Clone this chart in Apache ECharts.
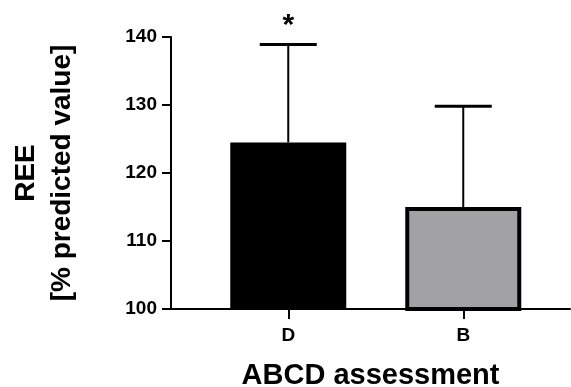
<!DOCTYPE html>
<html>
<head>
<meta charset="utf-8">
<script src="https://cdn.jsdelivr.net/npm/echarts@6/dist/echarts.min.js"></script>
<style>
  html, body { margin: 0; padding: 0; background: #fff; }
  #chart { width: 571px; height: 387px; }
</style>
</head>
<body>
<div id="chart"></div>
<script>
var categories = ['D', 'B'];
var positions = [1, 2];
var means = [124.5, 115.0];
var errTops = [138.9, 129.8];
var marks = ['*', ''];
var barColors = ['#000000', '#a2a1a6'];
var yTicks = [100, 110, 120, 130, 140];

var font = '"Liberation Sans", Arial, sans-serif';

function initChart(dom) {
  var myChart = echarts.init(dom),
    barData = positions.map(function (p, i) {
      return {
        value: [p, means[i]],
        itemStyle: {
          color: barColors[i],
          borderColor: '#000',
          borderWidth: i === 0 ? 0 : 4
        }
      };
    }),
    errData = positions.map(function (p, i) {
      return [p, means[i], errTops[i], marks[i]];
    }),
    option = {
      animation: false,
      grid: {
        left: 171,
        right: 1,
        top: 37,
        bottom: 78,
        outerBoundsMode: 'none',
        containLabel: false
      },
      xAxis: {
        type: 'value',
        min: 0.33,
        max: 2.61,
        name: 'ABCD assessment',
        nameLocation: 'middle',
        nameGap: 52,
        nameTextStyle: {
          color: '#000',
          fontFamily: font,
          fontWeight: 'bold',
          fontSize: 29
        },
        axisLine: {
          lineStyle: { color: '#000', width: 2 }
        },
        axisTick: {
          show: true,
          length: 10,
          customValues: positions,
          lineStyle: { color: '#000', width: 2 }
        },
        axisLabel: {
          customValues: positions,
          margin: 17,
          color: '#000',
          fontFamily: font,
          fontWeight: 'bold',
          fontSize: 19,
          formatter: function (v) {
            return categories[positions.indexOf(v)] || '';
          }
        },
        splitLine: { show: false }
      },
      yAxis: {
        type: 'value',
        min: yTicks[0],
        max: yTicks[yTicks.length - 1],
        interval: 10,
        name: 'REE\n[% predicted value]',
        nameLocation: 'middle',
        nameRotate: 90,
        nameGap: 91,
        nameTextStyle: {
          color: '#000',
          fontFamily: font,
          fontWeight: 'bold',
          fontSize: 28,
          lineHeight: 36
        },
        axisLine: {
          show: true,
          lineStyle: { color: '#000', width: 2 }
        },
        axisTick: {
          show: true,
          length: 9,
          lineStyle: { color: '#000', width: 2 }
        },
        axisLabel: {
          margin: 14,
          color: '#000',
          fontFamily: font,
          fontWeight: 'bold',
          fontSize: 19
        },
        splitLine: { show: false }
      },
      series: [{
        type: 'bar',
        barWidth: 116,
        data: barData,
        z: 2
      }, {
        type: 'custom',
        z: 3,
        clip: false,
        data: errData,
        renderItem: function (params, api) {
          var base = api.coord([api.value(0), api.value(1)]),
            top = api.coord([api.value(0), api.value(2)]),
            half = 28.5,
            children = [{
              type: 'line',
              shape: { x1: base[0], y1: base[1], x2: top[0], y2: top[1] },
              style: { stroke: '#000', lineWidth: 2 }
            }, {
              type: 'line',
              shape: { x1: top[0] - half, y1: top[1], x2: top[0] + half, y2: top[1] },
              style: { stroke: '#000', lineWidth: 3 }
            }];
          var mark = marks[params.dataIndex];
          if (mark) {
            children.push({
              type: 'text',
              style: {
                x: top[0],
                y: top[1] - 19,
                text: mark,
                fill: '#000',
                font: 'bold 30px ' + font,
                align: 'center',
                verticalAlign: 'middle'
              }
            });
          }
          return { type: 'group', children: children };
        }
      }]
    };
  myChart.setOption(option, true);
  window.addEventListener('resize', function () {
    myChart.resize();
  });
}

initChart(document.getElementById('chart'));
</script>
</body>
</html>
